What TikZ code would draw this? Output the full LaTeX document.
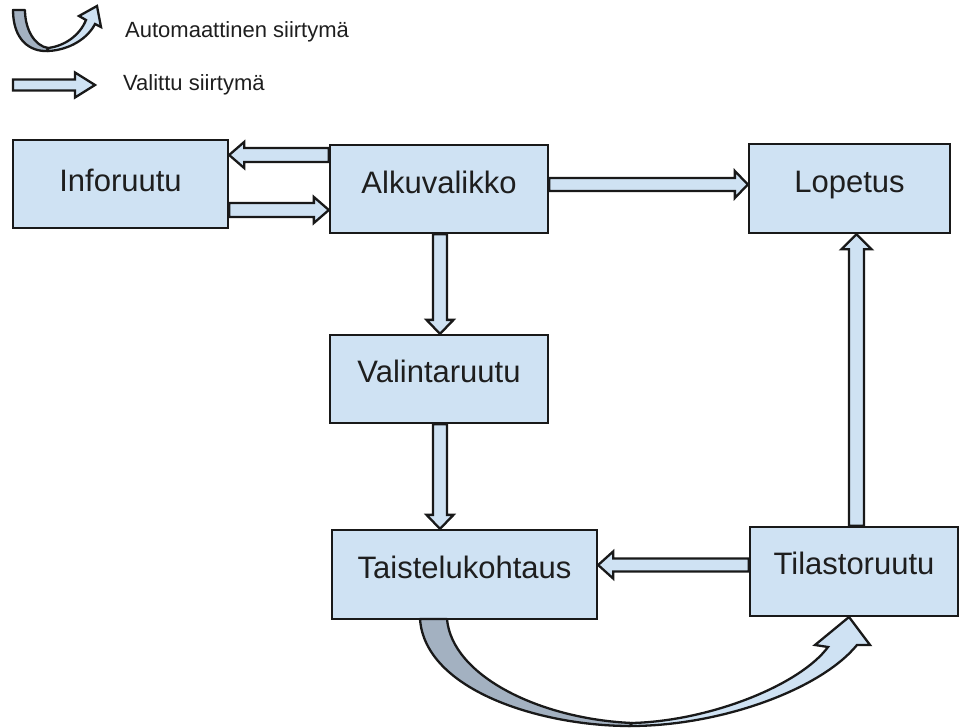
\documentclass[tikz,border=0pt]{standalone}
\usepackage{fontspec}
\setmainfont{Liberation Sans}
\usetikzlibrary{calc}
\definecolor{boxblue}{RGB}{207,226,243}
\definecolor{backblue}{RGB}{163,177,193}
\definecolor{edgecol}{RGB}{25,25,25}
\definecolor{labelcol}{RGB}{30,30,30}
\tikzset{
  screen/.style={draw=edgecol, fill=boxblue, line width=2.3pt, inner sep=0pt,
    font=\fontsize{31}{37}\selectfont, text=labelcol},
  blockar/.style={draw=edgecol, fill=boxblue, line width=2.3pt, line join=miter},
  backside/.style={draw=edgecol, fill=backblue, line width=2.3pt, line join=round},
  frontside/.style={draw=edgecol, fill=boxblue, line width=2.3pt, line join=miter},
  legendtext/.style={anchor=base west, inner sep=0pt,
    font=\fontsize{22}{26}\selectfont, text=labelcol},
}
% #1 start, #2 tip, #3 shaft half width, #4 head half width, #5 head length
\newcommand{\blockarrow}[5]{%
  \coordinate (ba-h) at ($(#2)!#5!(#1)$);
  \draw[blockar] ($(#1)!#3!90:(#2)$) -- ($(ba-h)!#3!90:(#2)$) -- ($(ba-h)!#4!90:(#2)$)
    -- (#2) -- ($(ba-h)!#4!-90:(#2)$) -- ($(ba-h)!#3!-90:(#2)$) -- ($(#1)!#3!-90:(#2)$) -- cycle;}
\begin{document}
\begin{tikzpicture}[x=1pt,y=-1pt]
\useasboundingbox (0,0) rectangle (959,728);

% legend
\draw[backside] (13,10) .. controls (13,40) and (30,52) .. (48,51)
  .. controls (47,50) .. (48,48) .. controls (35,46) and (25,30) .. (25,10) -- cycle;
\draw[frontside] (48,51) .. controls (70,50) and (88,38) .. (95,24) -- (101,27) -- (97,6)
  -- (79,16) -- (86,20) .. controls (80,35) and (65,46) .. (48,48) -- cycle;
\node[legendtext] (legauto) at (125,37) {Automaattinen siirtymä};
\coordinate (lg1) at (13,85);
\coordinate (lg2) at (95,85);
\blockarrow{lg1}{lg2}{5.5pt}{12.5pt}{20pt}
\node[legendtext] (legval) at (123,90) {Valittu siirtymä};

% screens
\node[screen, minimum width=215pt, text height=51pt, text depth=37pt] (info) at (120.5,184) {Inforuutu};
\node[screen, minimum width=218pt, text height=48pt, text depth=40pt] (alku) at (439,189) {Alkuvalikko};
\node[screen, minimum width=201pt, text height=48pt, text depth=41pt] (lopetus) at (849.5,188.5) {Lopetus};
\node[screen, minimum width=218pt, text height=47pt, text depth=41pt] (valinta) at (439,379) {Valintaruutu};
\node[screen, minimum width=265pt, text height=48pt, text depth=41pt] (taistelu) at (464.5,574.5) {Taistelukohtaus};
\node[screen, minimum width=208pt, text height=47pt, text depth=42pt] (tilasto) at (854,571.5) {Tilastoruutu};

% helper levels
\coordinate (yA) at (0,155);
\coordinate (yB) at (0,210);
\coordinate (yC) at (0,184.5);
\coordinate (yD) at (0,565);
\coordinate (xE) at (440,0);
\coordinate (xF) at (856.5,0);

% selected transitions
\coordinate (a1s) at (alku.west |- yA);
\coordinate (a1e) at (info.east |- yA);
\blockarrow{a1s}{a1e}{7pt}{13pt}{15pt}
\coordinate (a2s) at (info.east |- yB);
\coordinate (a2e) at (alku.west |- yB);
\blockarrow{a2s}{a2e}{7pt}{13pt}{15pt}
\coordinate (a3s) at (alku.east |- yC);
\coordinate (a3e) at (lopetus.west |- yC);
\blockarrow{a3s}{a3e}{6.5pt}{13.5pt}{13pt}
\coordinate (a4s) at (xE |- alku.south);
\coordinate (a4e) at (xE |- valinta.north);
\blockarrow{a4s}{a4e}{7pt}{13.5pt}{14pt}
\coordinate (a5s) at (xE |- valinta.south);
\coordinate (a5e) at (xE |- taistelu.north);
\blockarrow{a5s}{a5e}{7pt}{13.5pt}{14pt}
\coordinate (a6s) at (tilasto.west |- yD);
\coordinate (a6e) at (taistelu.east |- yD);
\blockarrow{a6s}{a6e}{6.5pt}{13.5pt}{15pt}
\coordinate (a7s) at (xF |- tilasto.north);
\coordinate (a7e) at (xF |- lopetus.south);
\blockarrow{a7s}{a7e}{7.5pt}{15pt}{15pt}

% automatic transition
\draw[backside] (420,619) .. controls (425,690) and (540,726) .. (630,726)
  .. controls (632,725) .. (632,723) .. controls (540,719) and (452,676) .. (447,619) -- cycle;
\draw[frontside] (630,726) .. controls (720,726) and (820,690) .. (857,645) -- (870,645)
  -- (849,617) -- (815,645) -- (828,647) .. controls (800,685) and (710,721) .. (632,723) -- cycle;
\end{tikzpicture}
\end{document}
